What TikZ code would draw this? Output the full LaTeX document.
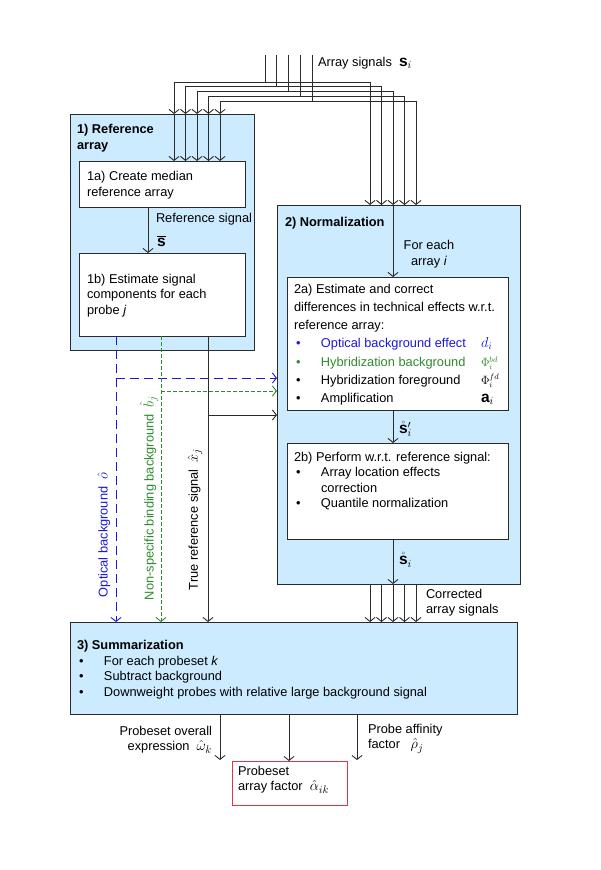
\documentclass[tikz,border=0pt]{standalone}
\usepackage{fontspec}
\setmainfont{Liberation Sans}
\usetikzlibrary{arrows.meta}
\definecolor{boxfill}{HTML}{CCEBFF}
\definecolor{linec}{HTML}{2B2B2B}
\definecolor{myblue}{HTML}{1A1AD6}
\definecolor{mygreen}{HTML}{2E8B2E}
\definecolor{myred}{HTML}{E8323C}
\newcommand{\bul}{\makebox[27pt][l]{\hspace{2pt}•}}
\newcommand{\mth}[1]{{\fontsize{15.5}{15.5}\selectfont$#1$}}
\newcommand{\phisym}[1]{\raisebox{-0.5pt}[0pt][0pt]{\fontsize{12}{12}\selectfont$\Phi_i^{#1}$}}
\begin{document}
\begin{tikzpicture}[x=1pt,y=-1pt,
  every node/.style={font=\fontsize{12.8}{15.5}\selectfont, inner sep=0pt, outer sep=0pt},
  panel/.style={draw=linec, fill=boxfill, line width=1pt, anchor=north west},
  wbox/.style={draw=linec, fill=white, line width=1pt, anchor=north west},
  txt/.style={anchor=north west, align=left},
  tip/.style={-{Straight Barb[length=4pt,width=10pt]}},
  conn/.style={draw=linec, line width=0.9pt, tip},
  wire/.style={draw=linec, line width=0.9pt},
  bdash/.style={draw=myblue, line width=0.9pt, dash pattern=on 9pt off 5pt},
  gdash/.style={draw=mygreen, line width=0.9pt, dash pattern=on 3.5pt off 2.5pt}]
\useasboundingbox (0,0) rectangle (600,870);
\fill[white] (0,0) rectangle (600,870);

% panels
\node[panel, minimum width=184pt, minimum height=236pt] (B1) at (70,114) {};
\node[wbox, minimum width=166pt, minimum height=46pt] (B1a) at (79,161) {};
\node[wbox, minimum width=166pt, minimum height=83pt] (B1b) at (79,253) {};
\node[panel, minimum width=243pt, minimum height=379pt] (B2) at (277,205) {};
\node[wbox, minimum width=221pt, minimum height=133pt] (B2a) at (287,277) {};
\node[wbox, minimum width=221pt, minimum height=96pt] (B2b) at (287,443) {};
\node[panel, minimum width=447pt, minimum height=92pt] (B3) at (70,622) {};
\node[draw=myred, fill=white, line width=1pt, anchor=north west, minimum width=115pt, minimum height=44pt] (R) at (232,761) {};

% texts in panels
\node[txt, font=\fontsize{12.8}{16}\selectfont\bfseries] (t1) at (77,124) {1) Reference\\array};
\node[txt, font=\fontsize{12.8}{16}\selectfont] (t1a) at (87,171) {1a) Create median\\reference array};
\node[txt] (t1b) at (87,274) {1b) Estimate signal\\components for each\\probe \textit{j}};
\node[txt, font=\fontsize{12.8}{16}\selectfont\bfseries] (t2) at (285,217) {2) Normalization};
\node[txt, font=\fontsize{12.8}{18.2}\selectfont] (t2a) at (294,284) {2a) Estimate and correct\\
differences in technical effects w.r.t.\\
reference array:\\
\textcolor{myblue}{\bul\makebox[160pt][l]{Optical background effect}\raisebox{0.5pt}[0pt][0pt]{\fontsize{14.5}{14.5}\selectfont$d_i$}}\\
\textcolor{mygreen}{\bul\makebox[160pt][l]{Hybridization background}\phisym{bd}}\\
\bul\makebox[160pt][l]{Hybridization foreground}\phisym{fd}\\
\bul\makebox[160pt][l]{Amplification}\raisebox{0pt}[0pt][0pt]{\mth{\mathbf{a}_i}}};
\node[txt] (t2b) at (294,452) {2b) Perform w.r.t. reference signal:\\
\bul Array location effects\\
\hspace*{27pt}correction\\
\bul Quantile normalization};
\node[txt, font=\fontsize{12.8}{15.8}\selectfont] (t3) at (77,640) {\textbf{3) Summarization}\\
\bul For each probeset \textit{k}\\
\bul Subtract background\\
\bul Downweight probes with relative large background signal};
\node[txt] (tR) at (238,766) {Probeset\\array factor \ \mth{\hat{\alpha}_{ik}}};

% array signal wires
\foreach \k in {0,...,4}{
  \pgfmathsetmacro{\h}{82+4.8*\k}
  \pgfmathsetmacro{\xl}{174+11.5*\k}
  \pgfmathsetmacro{\xr}{370+11.5*\k}
  \pgfmathsetmacro{\xt}{265+11.75*\k}
  \coordinate (T\k) at (\xt,55);
  \coordinate (J\k) at (\xt,\h);
  \coordinate (L\k) at (\xl,\h);
  \coordinate (Q\k) at (\xr,\h);
  \draw[wire] (T\k) -- (J\k);
  \draw[conn, {Straight Barb[length=4pt,width=10pt]}-{Straight Barb[length=4pt,width=10pt]}] (B1.north -| L\k) -- (L\k) -- (Q\k) -- (B2.north -| Q\k);
  \draw[conn] (B1.north -| L\k) -- (B1a.north -| L\k);
  \draw[conn] (B2.south -| Q\k) -- (B3.north -| Q\k);
}
\node[anchor=west] (lbArr) at (318,63) {Array signals \ \mth{\mathbf{s}_i}};

% reference signal
\coordinate (r1) at (148,0);
\draw[conn] (B1a.south -| r1) -- (B1b.north -| r1);
\node[anchor=west] (lbRef) at (156,219) {Reference signal};
\node[anchor=west] (lbS) at (157,241) {\mth{\overline{\mathbf{s}}}};

% normalization chain
\coordinate (n1) at (393,0);
\draw[conn] (B2.north -| n1) -- (B2a.north -| n1);
\node[align=center] (lbEach) at (429,254) {For each\\array \textit{i}};
\draw[conn] (B2a.south -| n1) -- (B2b.north -| n1);
\node[anchor=west] (lbS1) at (399,429) {\mth{\mathring{\mathbf{s}}'_i}};
\draw[conn] (B2b.south -| n1) -- (B2.south -| n1);
\node[anchor=west] (lbS2) at (399,560) {\mth{\mathring{\mathbf{s}}_i}};
\node[txt] (lbCorr) at (426,589) {Corrected\\array signals};

% reference outputs
\coordinate (ob) at (116,0);
\coordinate (og) at (161,0);
\coordinate (ok) at (208,0);
\coordinate (yb) at (0,378);
\coordinate (yg) at (0,391);
\coordinate (yk) at (0,415);
\draw[bdash, tip] (B1b.south -| ob) -- (B3.north -| ob);
\draw[bdash, tip] (ob |- yb) -- (B2.west |- yb);
\draw[gdash, tip] (B1b.south -| og) -- (B3.north -| og);
\draw[gdash, tip] (og |- yg) -- (B2.west |- yg);
\draw[conn] (B1b.south -| ok) -- (B3.north -| ok);
\draw[conn] (ok |- yk) -- (B2.west |- yk);
\node[rotate=90, anchor=west, text=myblue] (lbO) at (104,597) {Optical background \ \mth{\hat{o}}};
\node[rotate=90, anchor=west, text=mygreen] (lbB) at (149,600) {Non-specific binding background \ \mth{\hat{b}_j}};
\node[rotate=90, anchor=west] (lbX) at (195,590) {True reference signal \ \mth{\hat{x}_j}};

% summarization outputs
\coordinate (s1) at (220,760);
\coordinate (s3) at (357,760);
\coordinate (s2) at (289,0);
\draw[conn] (B3.south -| s1) -- (s1);
\draw[conn] (B3.south -| s2) -- (R.north -| s2);
\draw[conn] (B3.south -| s3) -- (s3);
\node[anchor=north east, align=right] (lbW) at (212,726) {Probeset overall\\expression \ \mth{\hat{\omega}_k}};
\node[anchor=north west, align=left] (lbP) at (368,724) {Probe affinity\\factor \ \ \mth{\hat{\rho}_j}};
\end{tikzpicture}
\end{document}
